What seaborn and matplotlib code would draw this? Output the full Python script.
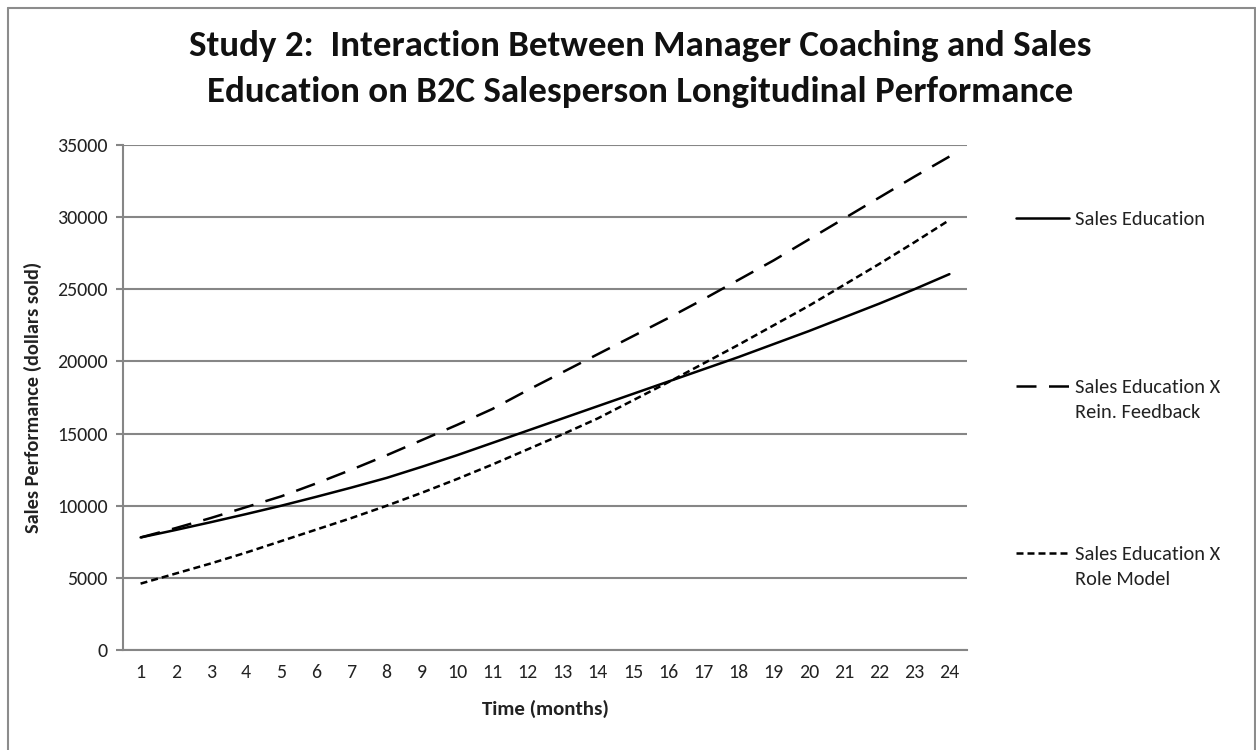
import matplotlib
matplotlib.use("Agg")
import matplotlib.pyplot as plt
import seaborn as sns
import pandas as pd
from matplotlib.lines import Line2D

# months on the category axis
months = list(range(1, 25))

# values (dollars sold)
sales_education = [7800, 8320, 8860, 9420, 10000, 10620, 11260, 11930, 12700, 13500,
                   14350, 15200, 16050, 16900, 17750, 18600, 19450, 20300, 21200, 22100,
                   23050, 24000, 25000, 26050]
rein_feedback = [7800, 8450, 9150, 9900, 10650, 11550, 12500, 13500, 14550, 15600,
                 16700, 18000, 19250, 20500, 21750, 23000, 24300, 25650, 27000, 28450,
                 29900, 31350, 32800, 34200]
role_model = [4600, 5300, 6000, 6750, 7550, 8350, 9150, 10000, 10900, 11850,
              12850, 13900, 14950, 16050, 17300, 18550, 19850, 21150, 22500, 23850,
              25300, 26750, 28250, 29800]

series_names = ["Sales Education", "Sales Education X Rein. Feedback", "Sales Education X Role Model"]
legend_first = ["Sales Education", "Sales Education X", "Sales Education X"]
legend_second = ["", "Rein. Feedback", "Role Model"]
y_ticks = [0, 5000, 10000, 15000, 20000, 25000, 30000, 35000]

df = pd.concat([
    pd.DataFrame({"month": months, "sales": sales_education, "series": series_names[0]}),
    pd.DataFrame({"month": months, "sales": rein_feedback, "series": series_names[1]}),
    pd.DataFrame({"month": months, "sales": role_model, "series": series_names[2]}),
])

sns.set_style("white")
plt.rcParams["font.family"] = ["Carlito", "Lato", "DejaVu Sans"]

fig = plt.figure(figsize=(12.56, 7.5), dpi=100)
ax = fig.add_axes([123 / 1256, 1 - 650 / 750, (967 - 123) / 1256, (650 - 145) / 750])

lw = 1.8
dash_map = {series_names[0]: "", series_names[1]: (8, 5), series_names[2]: (2.8, 1.6)}
sns.lineplot(data=df, x="month", y="sales", style="series", dashes=dash_map,
             color="black", linewidth=lw, ax=ax, legend=False)

txt_col = "#222222"
ax.set_xlim(0.5, 24.5)
ax.set_ylim(0, 35000)
ax.set_xticks(months)
ax.set_yticks(y_ticks)
ax.set_xticklabels([str(m) for m in months], fontsize=14.3, color=txt_col)
ax.set_yticklabels([str(v) for v in y_ticks], fontsize=14.3, color=txt_col)
ax.grid(axis="y", color="#868686", linewidth=1.5)
ax.set_axisbelow(True)
for side in ["top", "right"]:
    ax.spines[side].set_visible(False)
for side in ["left", "bottom"]:
    ax.spines[side].set_color("#868686")
    ax.spines[side].set_linewidth(1.5)
ax.tick_params(axis="y", length=5, width=1.5, color="#868686", pad=6, left=True)
ax.tick_params(axis="x", length=0, pad=10)
ax.set_xlabel("Time (months)", fontsize=15, fontweight="bold", color=txt_col, labelpad=14)
ax.set_ylabel("Sales Performance (dollars sold)", fontsize=14.7, fontweight="bold",
              color=txt_col, labelpad=11)

fig.text(0.51, 1 - 69 / 750,
         "Study 2:  Interaction Between Manager Coaching and Sales\n"
         "Education on B2C Salesperson Longitudinal Performance",
         ha="center", va="center", fontsize=26.6, fontweight="bold", linespacing=1.5,
         color="#111111")

# legend, with the handle on the first line of each label
handles = [Line2D([], [], color="black", linewidth=lw, linestyle="-"),
           Line2D([], [], color="black", linewidth=lw, linestyle=(0, (8, 5))),
           Line2D([], [], color="black", linewidth=lw, linestyle=(0, (2.8, 1.6)))]
leg = fig.legend(handles, legend_first, loc="center left",
                 bbox_to_anchor=(1006 / 1256, 1 - 387 / 750), frameon=False,
                 fontsize=14.7, handlelength=2.6, handletextpad=0.3, labelspacing=7.35,
                 borderpad=0)
fig.canvas.draw()
renderer = fig.canvas.get_renderer()
for txt, extra in zip(leg.get_texts(), legend_second):
    if extra:
        bb = txt.get_window_extent(renderer)
        fig.text(bb.x0 / fig.bbox.width, (bb.y0 - 25) / fig.bbox.height, extra,
                 fontsize=14.7, color=txt_col, ha="left", va="bottom")
for txt in leg.get_texts():
    txt.set_color(txt_col)

# outer chart frame
frame_col = "#8c8c8c"
fig.add_artist(Line2D([8 / 1256, 1255 / 1256], [1 - 8 / 750, 1 - 8 / 750], color=frame_col, lw=1.5))
fig.add_artist(Line2D([8 / 1256, 8 / 1256], [0, 1 - 8 / 750], color=frame_col, lw=1.5))
fig.add_artist(Line2D([1255 / 1256, 1255 / 1256], [0, 1 - 8 / 750], color=frame_col, lw=1.5))

fig.savefig("out.png", dpi=100, facecolor="white")
